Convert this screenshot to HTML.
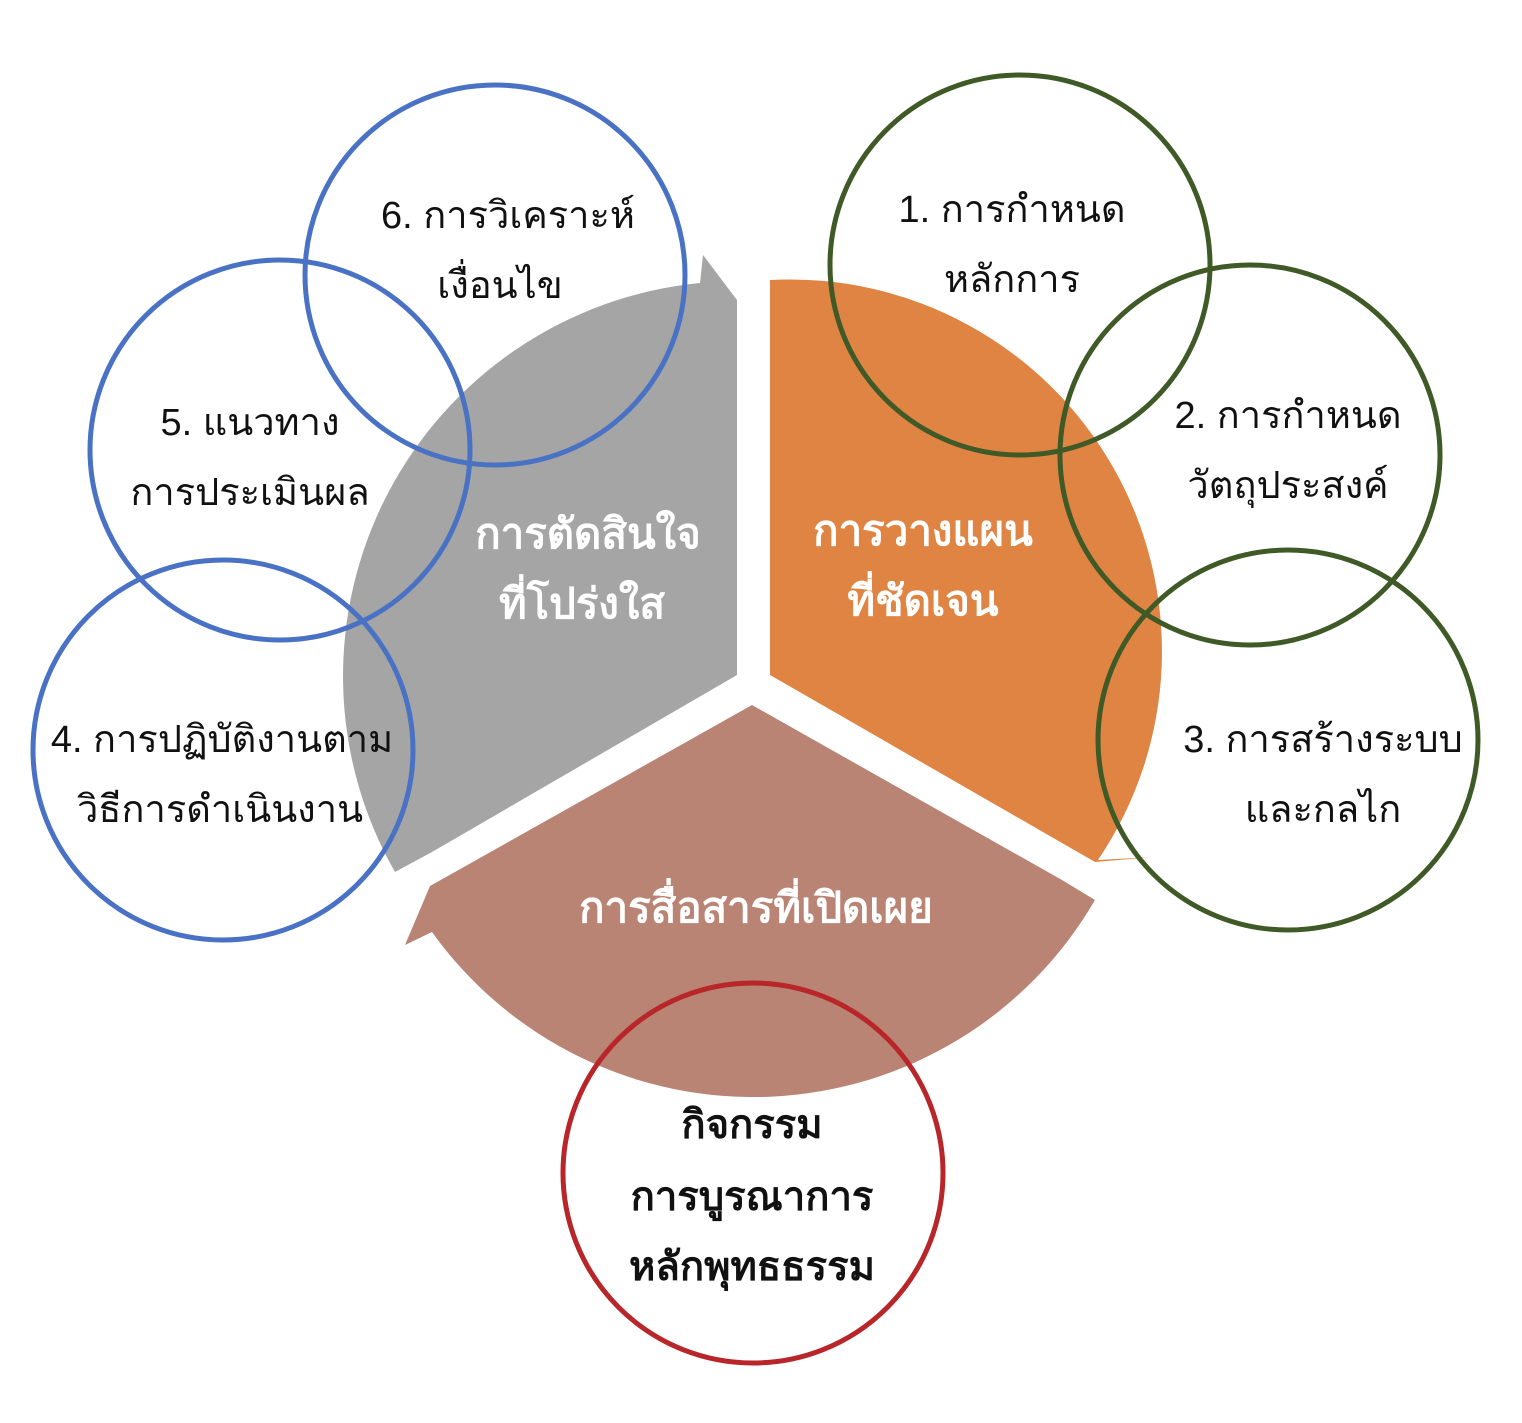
<!DOCTYPE html>
<html><head><meta charset="utf-8"><style>
html,body{margin:0;padding:0;background:#fff}
svg text{font-family:"Liberation Sans","Noto Sans CJK SC","WenQuanYi Zen Hei",sans-serif}
</style></head><body>
<svg width="1522" height="1418" viewBox="0 0 1522 1418" xmlns="http://www.w3.org/2000/svg">
<rect width="1522" height="1418" fill="#fff"/>
<path d="M737,675 L737,300 L703,255 L700,283 A395,395 0 0 0 395,872 L432,852 Z" fill="#a5a5a5"/>
<path d="M770,675 L770,280 A372,372 0 0 1 1098,860 L1152,857 L1095,862 Z" fill="#e08443"/>
<path d="M752,705 L1062,880 L1095,900 A395,395 0 0 1 432,932 L405,945 L430,886 Z" fill="#b98474"/>
<g fill="none" stroke-width="5">
<circle cx="495" cy="275" r="190" stroke="#4a72c4"/>
<circle cx="280" cy="450" r="190" stroke="#4a72c4"/>
<circle cx="223" cy="750" r="190" stroke="#4a72c4"/>
<circle cx="1020" cy="265" r="190" stroke="#3f5a26"/>
<circle cx="1250" cy="455" r="190" stroke="#3f5a26"/>
<circle cx="1288" cy="740" r="190" stroke="#3f5a26"/>
<circle cx="753" cy="1173" r="190" stroke="#b8262a"/>
</g>
<g font-size="38" fill="#111" text-anchor="middle">
<text x="508" y="228">6. การวิเคราะห์</text>
<text x="500" y="298">เงื่อนไข</text>
<text x="250" y="435">5. แนวทาง</text>
<text x="250" y="505">การประเมินผล</text>
<text x="222" y="752">4. การปฏิบัติงานตาม</text>
<text x="220" y="822">วิธีการดำเนินงาน</text>
<text x="1012" y="222">1. การกำหนด</text>
<text x="1012" y="292">หลักการ</text>
<text x="1288" y="428">2. การกำหนด</text>
<text x="1288" y="498">วัตถุประสงค์</text>
<text x="1323" y="752">3. การสร้างระบบ</text>
<text x="1323" y="822">และกลไก</text>
</g>
<g font-size="42" font-weight="bold" fill="#fff" text-anchor="middle">
<text x="588" y="548">การตัดสินใจ</text>
<text x="582" y="618">ที่โปร่งใส</text>
<text x="923" y="545">การวางแผน</text>
<text x="923" y="615">ที่ชัดเจน</text>
<text x="756" y="922">การสื่อสารที่เปิดเผย</text>
</g>
<g font-size="40" font-weight="bold" fill="#111" text-anchor="middle">
<text x="752" y="1138">กิจกรรม</text>
<text x="752" y="1210">การบูรณาการ</text>
<text x="752" y="1280">หลักพุทธธรรม</text>
</g>
</svg>
</body></html>
